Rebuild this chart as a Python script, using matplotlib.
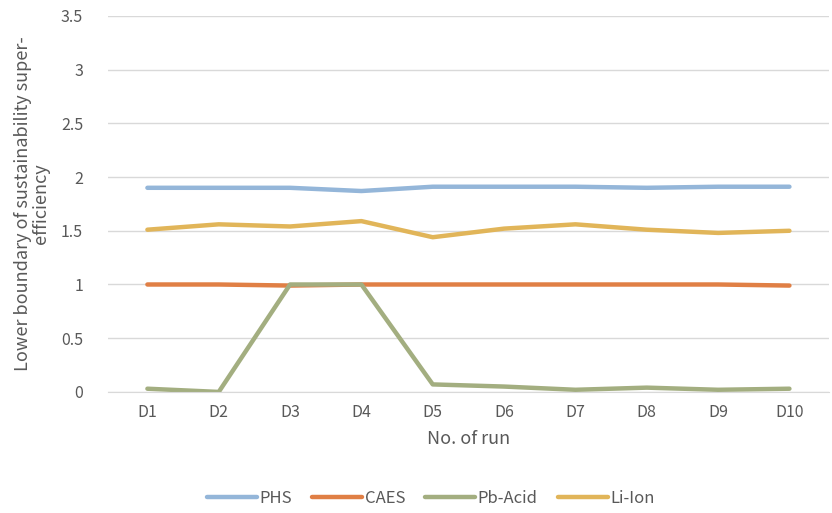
import numpy as np
import matplotlib.pyplot as plt

plt.rcParams['font.family'] = ['Noto Sans CJK SC', 'DejaVu Sans']

runs = ['D1', 'D2', 'D3', 'D4', 'D5', 'D6', 'D7', 'D8', 'D9', 'D10']
phs = [1.90, 1.90, 1.90, 1.87, 1.91, 1.91, 1.91, 1.90, 1.91, 1.91]
caes = [1.00, 1.00, 0.99, 1.00, 1.00, 1.00, 1.00, 1.00, 1.00, 0.99]
pb_acid = [0.03, 0.00, 1.00, 1.00, 0.07, 0.05, 0.02, 0.04, 0.02, 0.03]
li_ion = [1.51, 1.56, 1.54, 1.59, 1.44, 1.52, 1.56, 1.51, 1.48, 1.50]

series = [('PHS', phs, '#94b6d9'), ('CAES', caes, '#e07f45'),
          ('Pb-Acid', pb_acid, '#a3ae80'), ('Li-Ion', li_ion, '#e1b559')]

txt = '#595959'
fig = plt.figure(figsize=(8.32, 5.13), dpi=100)
ax = fig.add_axes([0.13, 0.236, 0.866, 0.733])

x = np.arange(len(runs))
for name, vals, col in series:
    ax.plot(x, vals, color=col, lw=3.2, solid_capstyle='round',
            solid_joinstyle='round', label=name)

ax.set_xlim(-0.55, len(runs) - 0.45)
ax.set_ylim(0, 3.5)
ax.set_yticks(np.arange(0, 3.51, 0.5))
ax.set_yticklabels(['0', '0.5', '1', '1.5', '2', '2.5', '3', '3.5'])
ax.set_xticks(x)
ax.set_xticklabels(runs)
ax.yaxis.grid(True, color='#d9d9d9', lw=1)
ax.set_axisbelow(True)
for s in ['top', 'right', 'left']:
    ax.spines[s].set_visible(False)
ax.spines['bottom'].set_color('#d9d9d9')
ax.tick_params(length=0, labelsize=11.5, colors=txt)
ax.tick_params(axis='y', pad=18)
ax.tick_params(axis='x', pad=9)

ax.set_xlabel('No. of run', fontsize=13, color=txt, labelpad=6)
ax.set_ylabel('Lower boundary of sustainability super-\nefficiency', fontsize=13,
              color=txt, labelpad=8, linespacing=1.0)

fig.legend(loc='lower center', bbox_to_anchor=(0.518, -0.017), ncol=4, frameon=False,
           fontsize=12, labelcolor=txt, handlelength=3.0, handletextpad=0.15,
           columnspacing=1.2)

fig.savefig('out.png', dpi=100)
